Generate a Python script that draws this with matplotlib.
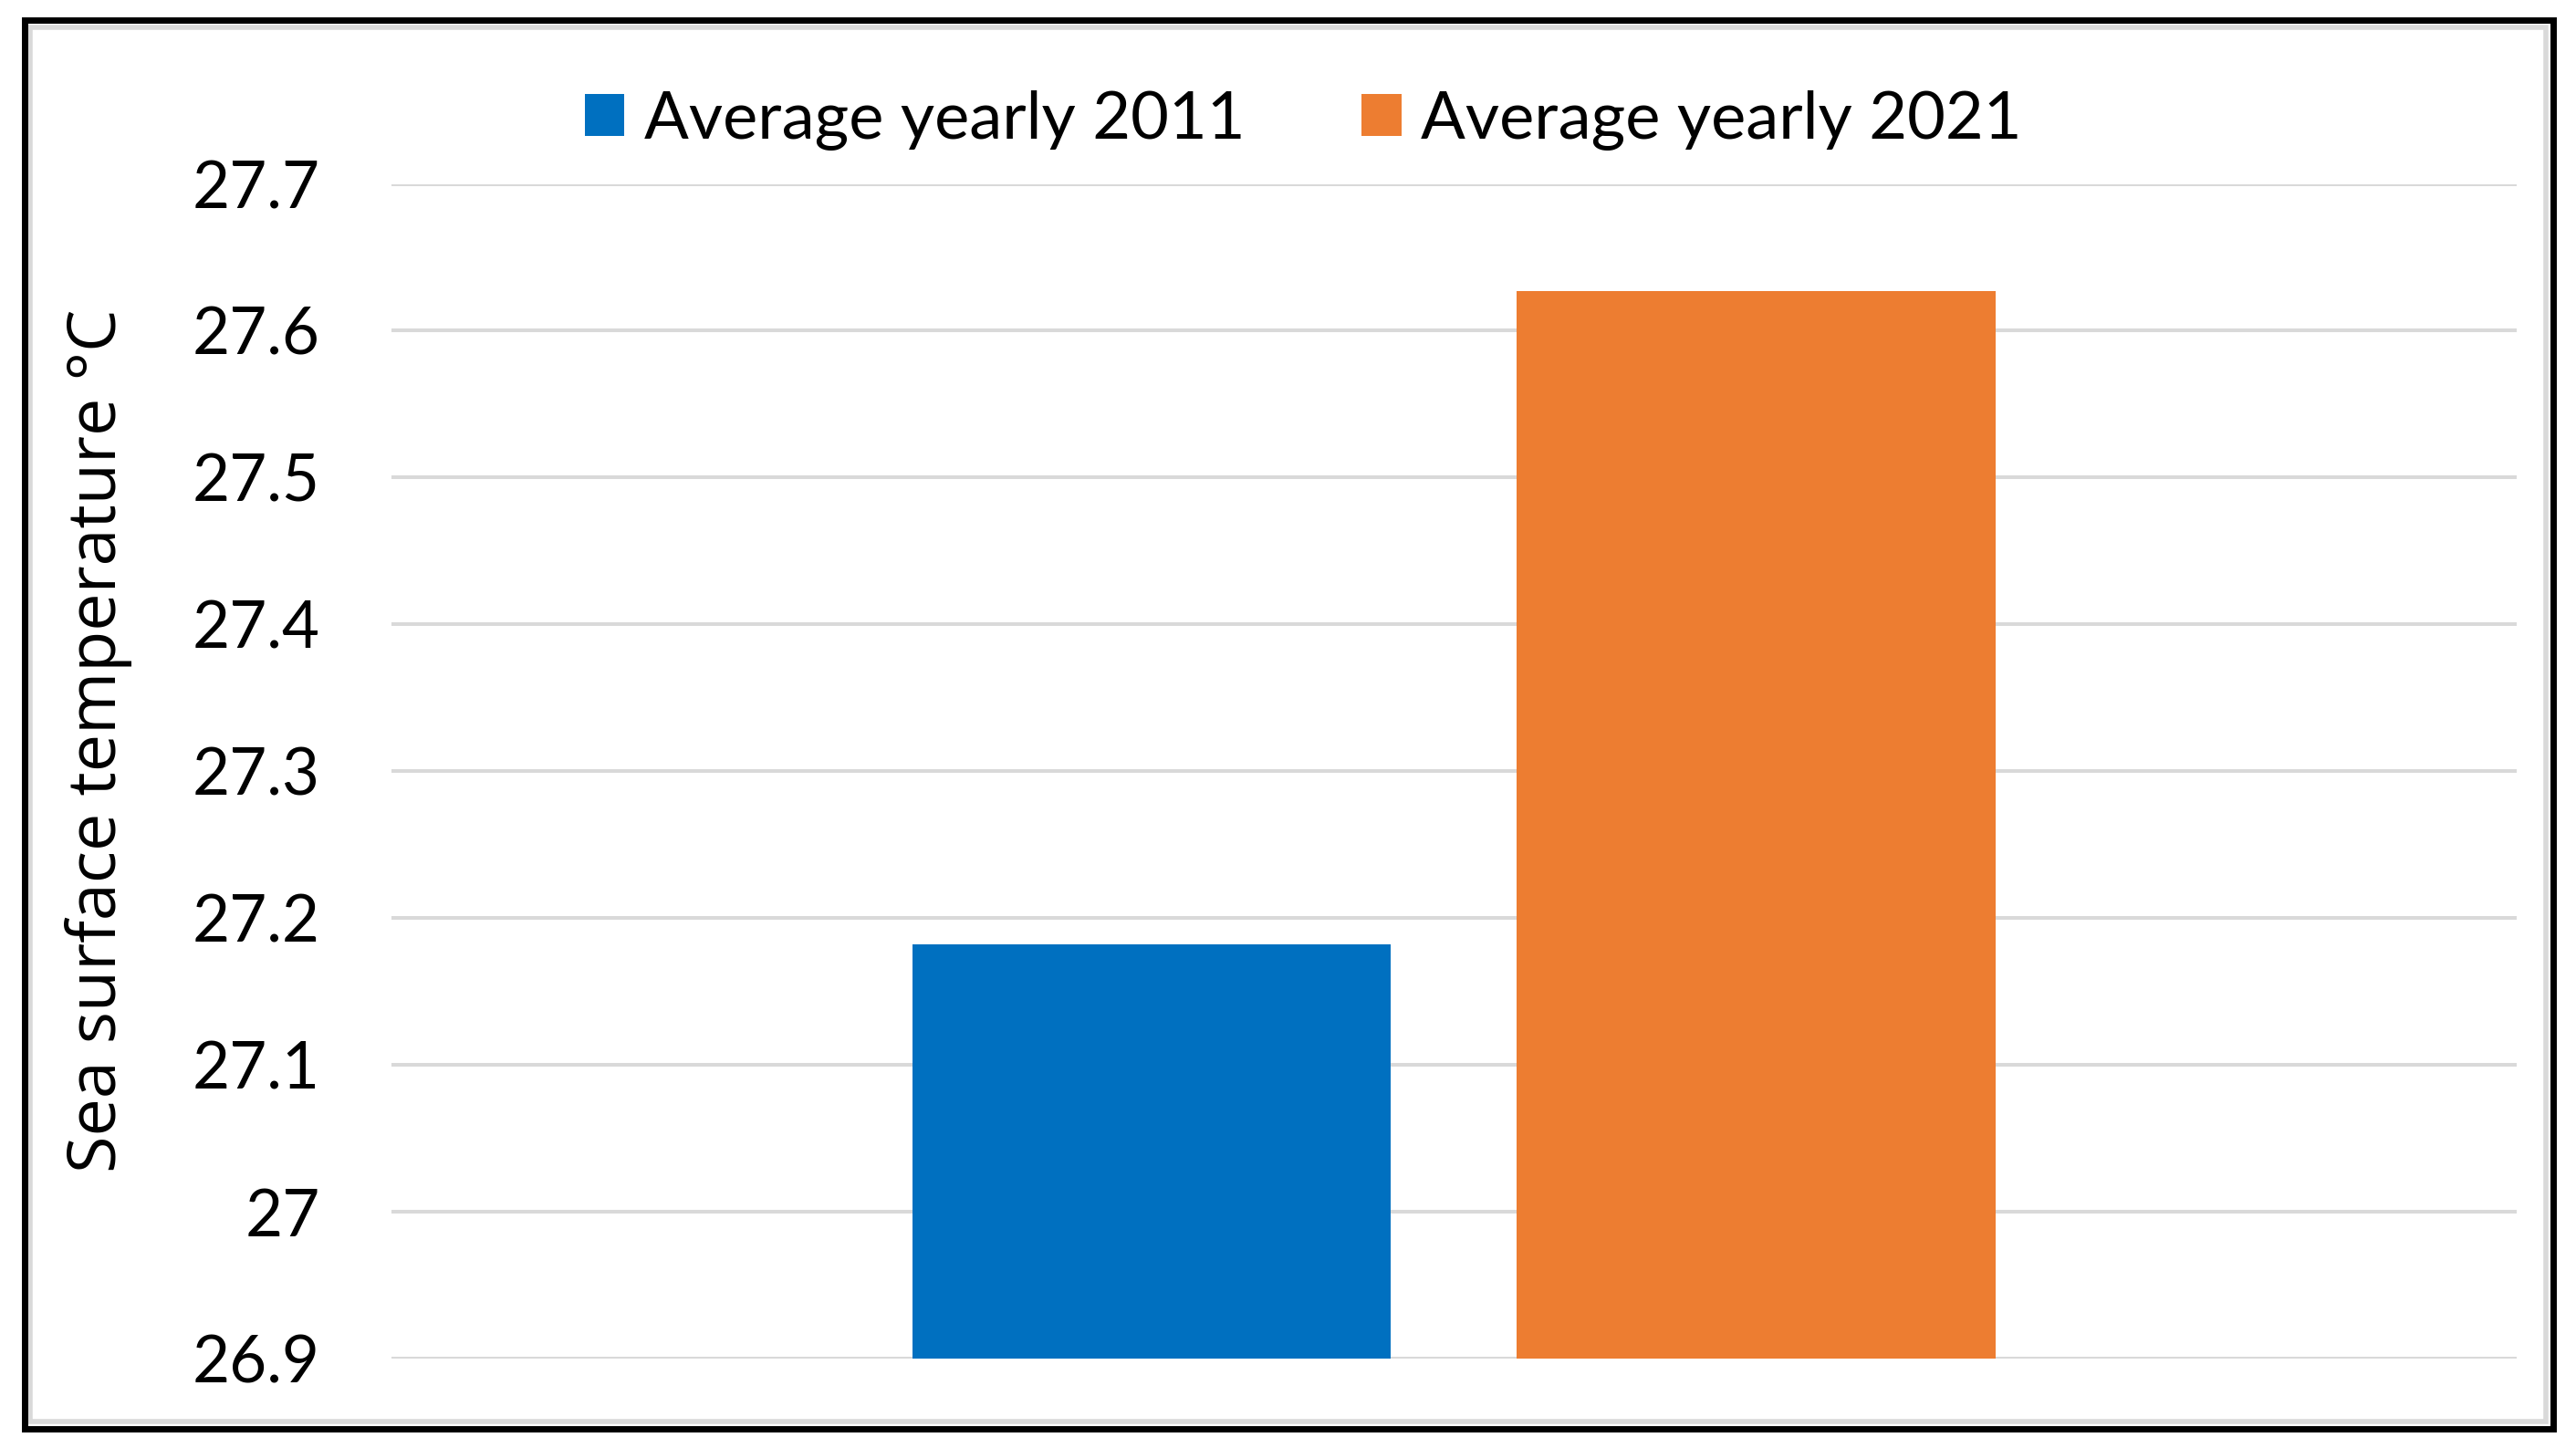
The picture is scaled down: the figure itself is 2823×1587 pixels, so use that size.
import matplotlib
matplotlib.use("Agg")
import matplotlib.pyplot as plt
from matplotlib.patches import Rectangle, Patch

# ---- data ----
series_labels = ["Average yearly 2011", "Average yearly 2021"]
series_values = [27.182, 27.627]
series_colors = ["#0070C0", "#ED7D31"]
yticks = [26.9, 27.0, 27.1, 27.2, 27.3, 27.4, 27.5, 27.6, 27.7]
ytick_labels = ["26.9", "27", "27.1", "27.2", "27.3", "27.4", "27.5", "27.6", "27.7"]
ylabel = "Sea surface temperature °C"

W, H, DPI = 2823, 1587, 100
fig = plt.figure(figsize=(W / DPI, H / DPI), dpi=DPI)
fig.patch.set_facecolor("white")

ax = fig.add_axes([0.1518, 0.0618, 0.977 - 0.1518, 0.873 - 0.0618])
ax.set_facecolor("white")

bar_width = 0.225
offsets = [-0.1422, 0.1422]
for lab, val, col, off in zip(series_labels, series_values, series_colors, offsets):
    ax.bar(off, val - yticks[0], bottom=yticks[0], width=bar_width, color=col,
           label=lab, zorder=3)

ax.set_xlim(-0.5, 0.5)
ax.set_ylim(yticks[0], yticks[-1])
ax.set_yticks(yticks)
ax.set_yticklabels(ytick_labels, fontsize=51, family=["Lato", "DejaVu Sans"], color="black")
ax.set_xticks([])
ax.tick_params(axis="y", length=0, pad=56)
ax.yaxis.grid(True, color="#D9D9D9", linewidth=2.9, zorder=0)
ax.set_axisbelow(True)
for s in ax.spines.values():
    s.set_visible(False)

fig.text(108 / W, 1 - 812 / H, ylabel, rotation=90, ha="center", va="center",
         fontsize=53, family=["Open Sans", "DejaVu Sans"], color="black")

handles = [Patch(facecolor=c, edgecolor="none") for c in series_colors]
fig.legend(handles, series_labels, loc="center", bbox_to_anchor=(0.506, 0.917),
           ncol=2, frameon=False, prop={"family": ["Lato", "DejaVu Sans"], "size": 52},
           handlelength=0.6, handleheight=0.6, handletextpad=0.3, columnspacing=1.77)

# outer frame
fig.patches.append(Rectangle((33 / W, 1 - 1558 / H), (2790 - 33) / W, (1558 - 30) / H,
                             transform=fig.transFigure, fill=False,
                             edgecolor="#D9D9D9", linewidth=4, zorder=9))
fig.patches.append(Rectangle((27 / W, 1 - 1566 / H), (2798 - 27) / W, (1566 - 22) / H,
                             transform=fig.transFigure, fill=False,
                             edgecolor="black", linewidth=5, zorder=10))

fig.savefig("out.png", dpi=DPI, facecolor="white")
